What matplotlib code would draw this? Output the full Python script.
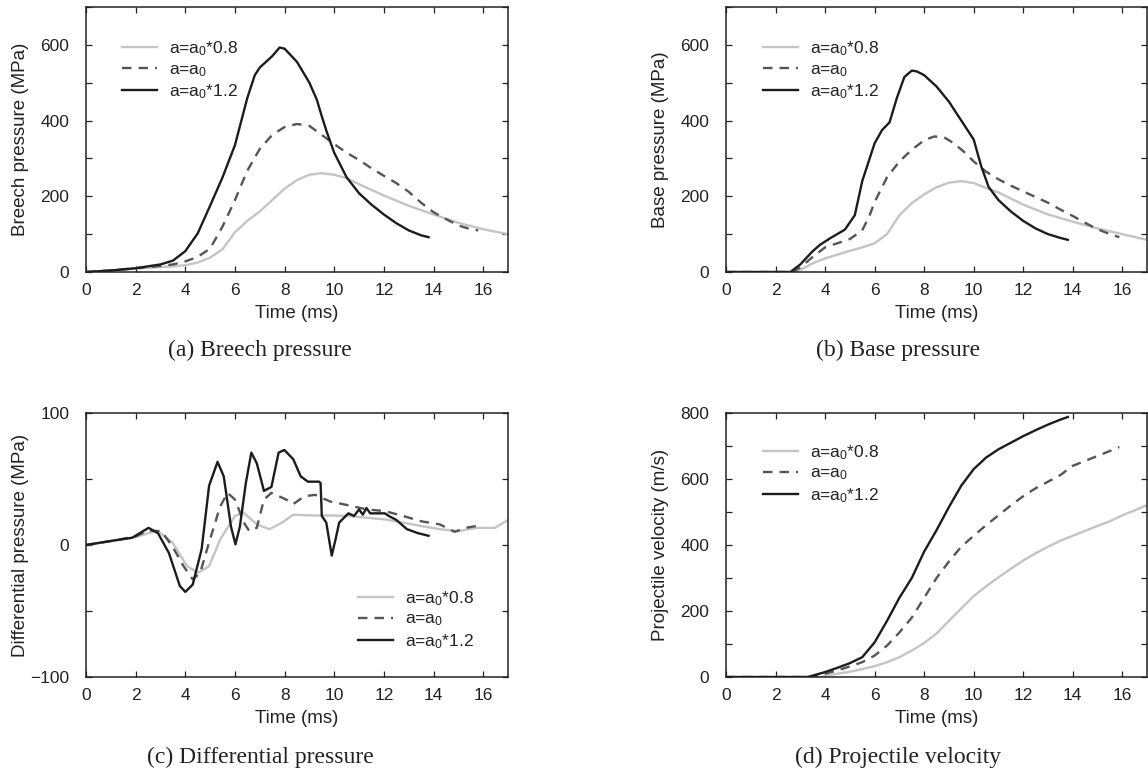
import matplotlib
matplotlib.use("Agg")
import matplotlib.pyplot as plt
from matplotlib.ticker import MultipleLocator

plt.rcParams["font.family"] = ["Liberation Sans", "DejaVu Sans"]
plt.rcParams["mathtext.default"] = "regular"
plt.rcParams["text.color"] = "#222222"
plt.rcParams["axes.labelcolor"] = "#222222"
plt.rcParams["xtick.color"] = "#222222"
plt.rcParams["ytick.color"] = "#222222"

labels = ["a=a$_0$*0.8", "a=a$_0$", "a=a$_0$*1.2"]

# (a) breech pressure
a_t08 = [0, 1, 2, 3, 3.5, 4, 4.5, 5, 5.5, 6, 6.5, 7, 7.5, 8, 8.5, 9, 9.5, 10, 10.5, 11, 12, 13, 14, 15, 16, 17]
a_v08 = [0, 4, 9, 13, 15, 18, 25, 38, 60, 105, 135, 160, 190, 220, 243, 257, 261, 257, 248, 232, 202, 175, 152, 130, 113, 100]
a_t10 = [0, 1, 2, 3, 3.5, 4, 4.5, 5, 5.5, 6, 6.5, 7, 7.5, 8, 8.5, 9, 9.5, 10, 10.5, 11, 11.5, 12, 12.5, 13, 13.5, 14, 14.5, 15, 15.5, 15.8]
a_v10 = [0, 4, 10, 16, 20, 28, 40, 62, 120, 190, 268, 325, 362, 383, 391, 386, 362, 338, 315, 296, 274, 254, 235, 212, 183, 158, 140, 123, 113, 110]
a_t12 = [0, 1, 2, 3, 3.5, 4, 4.5, 5, 5.5, 6, 6.5, 6.8, 7, 7.5, 7.8, 8, 8.5, 9, 9.3, 9.5, 9.7, 10, 10.5, 11, 11.5, 12, 12.5, 13, 13.5, 13.8]
a_v12 = [0, 4, 10, 20, 30, 55, 102, 175, 250, 335, 460, 520, 540, 570, 593, 590, 555, 500, 455, 411, 370, 315, 250, 208, 178, 152, 129, 110, 97, 92]

# (b) base pressure
b_t08 = [0, 2.8, 3.2, 3.5, 4, 4.5, 5, 5.5, 6, 6.5, 7, 7.5, 8, 8.5, 9, 9.5, 10, 10.5, 11, 12, 13, 14, 15, 16, 17]
b_v08 = [0, 0, 12, 23, 36, 46, 56, 65, 76, 100, 150, 182, 205, 224, 236, 240, 235, 222, 210, 178, 152, 133, 115, 100, 85]
b_t10 = [0, 2.7, 3, 3.5, 4, 4.5, 5, 5.5, 5.8, 6, 6.5, 7, 7.5, 8, 8.4, 8.8, 9.2, 9.6, 10, 10.5, 11, 11.5, 12, 12.5, 13, 13.5, 14, 14.5, 15, 15.5, 15.88]
b_v10 = [0, 0, 12, 40, 65, 76, 87, 110, 150, 185, 250, 292, 323, 348, 358, 356, 340, 318, 292, 265, 245, 228, 213, 198, 183, 165, 148, 130, 113, 100, 92]
b_t12 = [0, 2.6, 3, 3.5, 3.8, 4.2, 4.8, 5.2, 5.5, 6, 6.3, 6.6, 6.9, 7.2, 7.5, 7.7, 8, 8.5, 9, 9.5, 10, 10.3, 10.6, 11, 11.5, 12, 12.5, 13, 13.5, 13.8]
b_v12 = [0, 0, 20, 55, 72, 89, 112, 150, 240, 340, 375, 395, 460, 515, 532, 530, 520, 490, 450, 400, 350, 280, 225, 190, 160, 135, 115, 100, 90, 85]

# (c) differential pressure
c_t08 = [0, 1, 2, 2.5, 2.9, 3.48, 4.07, 4.52, 4.96, 5.4, 6.0, 6.36, 6.88, 7.39, 7.9, 8.35, 9.1, 9.83, 10.57, 11.3, 12.04, 12.78, 13.5, 14.26, 15.0, 15.73, 16.47, 17]
c_v08 = [0, 3, 6, 9, 10.5, 2, -16, -21, -16, 4, 22, 24.4, 15.6, 12, 17, 23, 22.4, 22.4, 22, 20.7, 19.4, 17, 14.4, 12, 10.5, 13, 13, 19]
c_t10 = [0, 1, 2, 2.5, 3.04, 3.48, 3.93, 4.3, 4.6, 4.96, 5.4, 5.7, 6.0, 6.36, 6.58, 6.88, 7.17, 7.47, 8.06, 8.35, 8.8, 9.24, 9.83, 10.72, 11.3, 12.04, 12.78, 13.5, 14.26, 14.85, 15.3, 15.73, 15.9]
c_v10 = [0, 3, 6.5, 11, 10.5, -1, -16, -26, -21, 2, 29, 39.5, 34.5, 17, 10.5, 13, 34.5, 39.5, 34.5, 31, 37, 38, 33, 29.5, 27, 25.7, 22, 18, 15.6, 10, 13, 14.4, 13]
c_t12 = [0, 0.97, 1.86, 2.52, 2.9, 3.34, 3.78, 4.0, 4.3, 4.66, 4.96, 5.3, 5.55, 5.84, 6.02, 6.2, 6.44, 6.66, 6.88, 7.17, 7.47, 7.76, 7.99, 8.35, 8.65, 8.94, 9.39, 9.45, 9.5, 9.68, 9.9, 10.05, 10.2, 10.57, 10.8, 11.0, 11.15, 11.3, 11.45, 11.6, 12.04, 12.2, 12.5, 12.93, 13.37, 13.8]
c_v12 = [0, 3, 5.5, 13, 9, -6, -31, -35.5, -30, -3, 45, 63, 52, 14, 0.5, 14, 47, 70, 62, 41, 44, 70, 72, 65, 52, 48, 48, 47, 22, 17, -8, 4, 17, 24, 22, 27, 23, 28, 24, 24, 24, 22, 19, 12, 9, 7]

# (d) projectile velocity
d_t08 = [0, 3.8, 4.5, 5, 5.5, 6, 6.5, 7, 7.5, 8, 8.5, 9, 9.5, 10, 10.5, 11, 11.5, 12, 12.5, 13, 13.5, 14, 14.5, 15, 15.5, 16, 16.5, 17]
d_v08 = [0, 0, 10, 16, 24, 33, 45, 60, 80, 103, 132, 170, 208, 245, 275, 302, 328, 353, 375, 395, 413, 428, 443, 458, 472, 490, 505, 521]
d_t10 = [0, 3.5, 4, 4.5, 5, 5.5, 6, 6.5, 7, 7.5, 8, 8.5, 9, 9.5, 10, 10.5, 11, 11.5, 12, 12.5, 13, 13.5, 14, 14.5, 15, 15.5, 15.88]
d_v10 = [0, 0, 10, 20, 32, 45, 65, 95, 135, 180, 240, 300, 350, 395, 428, 460, 490, 520, 548, 572, 592, 612, 640, 655, 670, 685, 697]
d_t12 = [0, 3.3, 4, 4.5, 5, 5.5, 6, 6.5, 7, 7.5, 8, 8.5, 9, 9.5, 10, 10.5, 11, 11.5, 12, 12.5, 13, 13.5, 13.8]
d_v12 = [0, 0, 15, 28, 42, 60, 105, 170, 240, 300, 380, 445, 515, 580, 630, 665, 690, 710, 730, 748, 765, 780, 788]

fig = plt.figure(figsize=(11.48, 7.71), dpi=100)

panels = [
    ([0.0749, 0.6472, 0.3676, 0.3437], (a_t08, a_v08, a_t10, a_v10, a_t12, a_v12),
     "Breech pressure (MPa)", (0, 700), 200, 100, (0.085, 0.762), "(a) Breech pressure", (0.2265, 0.546)),
    ([0.6324, 0.6472, 0.3668, 0.3437], (b_t08, b_v08, b_t10, b_v10, b_t12, b_v12),
     "Base pressure (MPa)", (0, 700), 200, 100, (0.088, 0.762), "(b) Base pressure", (0.782, 0.546)),
    ([0.0749, 0.1219, 0.3676, 0.3424], (c_t08, c_v08, c_t10, c_v10, c_t12, c_v12),
     "Differential pressure (MPa)", (-100, 100), 100, 50, (0.645, 0.216), "(c) Differential pressure", (0.227, 0.018)),
    ([0.6324, 0.1219, 0.3668, 0.3424], (d_t08, d_v08, d_t10, d_v10, d_t12, d_v12),
     "Projectile velocity (m/s)", (0, 800), 200, 100, (0.088, 0.769), "(d) Projectile velocity", (0.782, 0.018)),
]

for rect, series, ylabel, ylim, major, minor, legpos, caption, cappos in panels:
    ax = fig.add_axes(rect)
    t08, v08, t10, v10, t12, v12 = series
    ax.plot(t08, v08, color="#c4c4c4", lw=1.7, label=labels[0])
    ax.plot(t10, v10, color="#555555", lw=1.7, dashes=(4, 3), label=labels[1])
    ax.plot(t12, v12, color="#1c1c1c", lw=1.7, label=labels[2])
    ax.set_xlim(0, 17)
    ax.set_ylim(*ylim)
    ax.xaxis.set_major_locator(MultipleLocator(2))
    ax.yaxis.set_major_locator(MultipleLocator(major))
    ax.yaxis.set_minor_locator(MultipleLocator(minor))
    ax.tick_params(which="both", direction="in", top=True, right=True, length=4.5, width=0.9, labelsize=12.5)
    ax.tick_params(axis="y", pad=12)
    ax.tick_params(axis="x", pad=8)
    for s in ax.spines.values():
        s.set_linewidth(1.1)
        s.set_color("#222222")
    ax.set_xlabel("Time (ms)", fontsize=13.5)
    ax.set_ylabel(ylabel, fontsize=13.5)
    ax.yaxis.set_label_coords(-0.135, 0.5)
    ax.xaxis.set_label_coords(0.5, -0.125)
    ax.legend(loc="center left", bbox_to_anchor=legpos, frameon=False, fontsize=12.5,
              handlelength=2.0, handletextpad=0.7, labelspacing=0.2, borderpad=0, borderaxespad=0)
    fig.text(cappos[0], cappos[1], caption, ha="center", va="center",
             family=["Liberation Serif", "DejaVu Serif"], fontsize=17)

fig.savefig("out.png", dpi=100)
